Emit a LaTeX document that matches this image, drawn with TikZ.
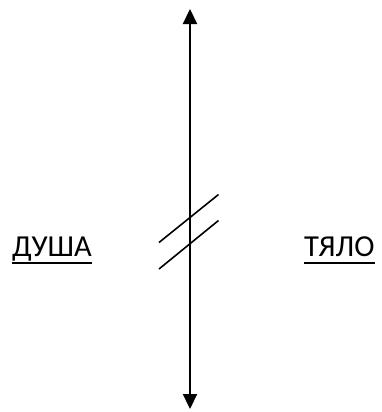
\documentclass[tikz,border=0pt]{standalone}
\usepackage{fontspec}
\setmainfont{Carlito}
\usetikzlibrary{arrows.meta}
\colorlet{axiscolor}{black}
\tikzset{
    word/.style={font=\fontsize{30.5bp}{36bp}\selectfont, inner sep=0pt, anchor=base west},
    underbar/.style={line width=2.2bp, axiscolor},
}

\begin{document}
\begin{tikzpicture}[x=1bp, y=-1bp]
    \useasboundingbox (0,0) rectangle (382,412);
    % --- vertical axis with arrows at both ends ---
    \coordinate (top) at (190,9);
    \coordinate (bottom) at (190,409);
    \draw[line width=2.2bp, axiscolor, {Triangle[width=14bp,length=15bp]}-{Triangle[width=14bp,length=15bp]}] (top) -- (bottom);
    % --- break marks across the axis ---
    \coordinate (b1s) at (159,242.5);
    \coordinate (b1e) at (218.5,194.5);
    \coordinate (b2s) at (159,269);
    \coordinate (b2e) at (218.5,220.5);
    \draw[line width=1.6bp, axiscolor] (b1s) -- (b1e);
    \draw[line width=1.6bp, axiscolor] (b2s) -- (b2e);
    % --- labels ---
    \node[word] (soul) at (12,256.7) {ДУША};
    \node[word] (body) at (304,256.7) {ТЯЛО};
    \draw[underbar] ([yshift=-6.5bp]soul.base west) -- ([yshift=-6.5bp]soul.base east);
    \draw[underbar] ([yshift=-6.5bp]body.base west) -- ([yshift=-6.5bp]body.base east);
\end{tikzpicture}
\end{document}
